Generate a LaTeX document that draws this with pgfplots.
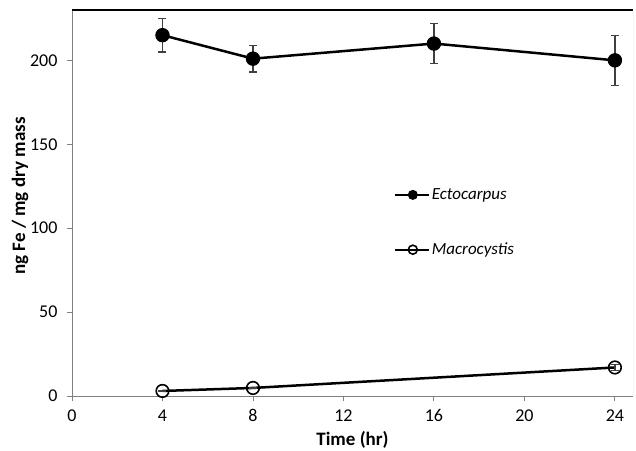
\documentclass[border=0pt]{standalone}
\usepackage{pgfplots}
\pgfplotsset{compat=1.18}
\usepackage{fontspec}
\setmainfont{Carlito}
\begin{document}
\begin{tikzpicture}
\begin{axis}[
  name=ax,
  width=561pt, height=386pt, scale only axis,
  xmin=0, xmax=24.8, ymin=0, ymax=230,
  xtick={0,4,8,12,16,20,24},
  ytick={0,50,100,150,200},
  axis x line*=bottom, axis y line*=left,
  tick align=outside,
  major tick length=5pt,
  every tick/.style={black!50, line width=0.9pt},
  axis line style={black!50, line width=0.9pt, -},
  /pgf/number format/assume math mode=true,
  ticklabel style={font=\fontsize{18}{21}\selectfont},
  y tick label style={xshift=-6pt},
  x tick label style={yshift=-5pt},
  xlabel={\textbf{Time (hr)}},
  ylabel={\textbf{ng Fe / mg dry mass}},
  label style={font=\fontsize{19}{22}\selectfont},
  xlabel style={at={(rel axis cs:0.5,0)}, anchor=base, yshift=-50pt},
  ylabel style={at={(rel axis cs:0,0.518)}, anchor=center, rotate=0, yshift=52pt},
  legend style={at={(rel axis cs:0.568,0.548)}, anchor=north west, draw=none, fill=none,
    font=\fontsize{17}{20}\selectfont\itshape, row sep=38pt, cells={anchor=west}},
  legend image code/.code={
    \draw[#1, line width=2pt, mark size=4.5pt, mark repeat=2, mark phase=2]
      plot coordinates {(0pt,0pt) (18pt,0pt) (34pt,0pt)};
  },
]
\addplot[black, line width=2.5pt, mark=*, mark size=6.7pt,
  mark options={solid, line width=1pt},
  error bars/.cd, y dir=both, y explicit,
  error bar style={black!75, line width=1.2pt},
  error mark options={rotate=90, mark size=4pt, line width=1.2pt, black!75}]
coordinates {
  (4,215) +- (0,10)
  (8,201) +- (0,8)
  (16,210) +- (0,12)
  (24,200) +- (0,15)
};
\addlegendentry{Ectocarpus}
\addplot[black, line width=2.5pt, mark=o, mark size=6.3pt,
  mark options={solid, line width=1.6pt, fill=white},
  error bars/.cd, y dir=both, y explicit,
  error bar style={black!75, line width=1.2pt},
  error mark options={rotate=90, mark size=4pt, line width=1.2pt, black!75}]
coordinates {
  (4,3) +- (0,0)
  (8,4.8) +- (0,0)
  (24,17) +- (0,2)
};
\addlegendentry{Macrocystis}
\draw[black!25, line width=0.9pt] (rel axis cs:1,0) -- (rel axis cs:1,1);
\draw[black, line width=1.1pt] (rel axis cs:0,1) -- (rel axis cs:1,1);
\end{axis}
\pgfresetboundingbox
\path ([xshift=-72pt,yshift=-55pt]ax.south west) rectangle ([xshift=3pt,yshift=10pt]ax.north east);
\end{tikzpicture}
\end{document}
